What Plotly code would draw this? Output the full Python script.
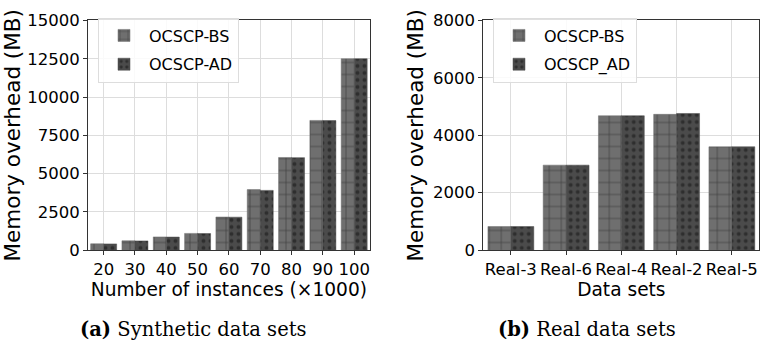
import plotly.graph_objects as go

syn_cats = ["20", "30", "40", "50", "60", "70", "80", "90", "100"]
syn_bs = [410, 610, 860, 1090, 2160, 3950, 6050, 8470, 12500]
syn_ad = [405, 600, 850, 1080, 2150, 3900, 6040, 8460, 12500]

real_cats = ["Real-3", "Real-6", "Real-4", "Real-2", "Real-5"]
real_bs = [820, 2960, 4680, 4730, 3600]
real_ad = [820, 2960, 4680, 4760, 3600]

BS_COLOR = "#6f6f6f"
AD_COLOR = "#4b4b4b"
FONT = "DejaVu Sans"

fig = go.Figure()

def add_pair(cats, bs, ad, xa, ya, names, show):
    fig.add_trace(go.Bar(x=cats, y=bs, name=names[0], xaxis=xa, yaxis=ya,
                         legendgroup=show + "bs",
                         marker=dict(color=BS_COLOR, line=dict(color=BS_COLOR, width=0.5),
                                     pattern=dict(shape="+", fgcolor="#111111", bgcolor=BS_COLOR,
                                                  size=12, solidity=0.12)),
                         legend=show))
    fig.add_trace(go.Bar(x=cats, y=ad, name=names[1], xaxis=xa, yaxis=ya,
                         legendgroup=show + "ad",
                         marker=dict(color=AD_COLOR, line=dict(color=AD_COLOR, width=0.5),
                                     pattern=dict(shape=".", fgcolor="#111111", bgcolor=AD_COLOR,
                                                  size=7, solidity=0.25)),
                         legend=show))

add_pair(syn_cats, syn_bs, syn_ad, "x", "y", ["OCSCP-BS", "OCSCP-AD"], "legend")
add_pair(real_cats, real_bs, real_ad, "x2", "y2", ["OCSCP-BS", "OCSCP_AD"], "legend2")

axis_common = dict(showline=True, linecolor="#333333", linewidth=1, mirror=True,
                   showgrid=True, gridcolor="#dddddd", gridwidth=1, layer="above traces",
                   ticks="outside", ticklen=4, tickcolor="#333333",
                   tickfont=dict(family=FONT, size=16.5, color="black"), zeroline=False)

XT_FONT = dict(family=FONT, size=18.6, color="black")
YT_FONT = dict(family=FONT, size=21.5, color="black")

legend_common = dict(bgcolor="rgba(255,255,255,0.85)", bordercolor="#dddddd", borderwidth=1,
                     font=dict(family=FONT, size=16, color="black"),
                     xanchor="left", yanchor="top", tracegroupgap=5, itemwidth=40)

syn_ticks = [0, 2500, 5000, 7500, 10000, 12500, 15000]
real_ticks = [0, 2000, 4000, 6000, 8000]

fig.update_layout(
    width=761, height=347,
    margin=dict(l=0, r=0, t=0, b=0),
    plot_bgcolor="white", paper_bgcolor="white",
    barmode="group", bargap=0.17, bargroupgap=0.0,
    xaxis=dict(domain=[0.1156, 0.486], anchor="y",
               title=dict(text="Number of instances (×1000)", font=XT_FONT, standoff=2),
               **axis_common),
    yaxis=dict(domain=[0.265, 0.965], anchor="x", range=[0, 15000],
               tickmode="array", tickvals=syn_ticks, ticktext=[str(v) for v in syn_ticks],
               title=dict(text="Memory overhead (MB)", font=YT_FONT, standoff=3),
               **axis_common),
    xaxis2=dict(domain=[0.635, 0.998], anchor="y2",
                title=dict(text="Data sets", font=XT_FONT, standoff=2),
                **axis_common),
    yaxis2=dict(domain=[0.265, 0.965], anchor="x2", range=[0, 8000],
                tickmode="array", tickvals=real_ticks, ticktext=[str(v) for v in real_ticks],
                title=dict(text="Memory overhead (MB)", font=YT_FONT, standoff=3),
                **axis_common),
    legend=dict(x=98/761, y=1-9/347, **legend_common),
    legend2=dict(x=493/761, y=1-9/347, **legend_common),
    showlegend=True,
)

fig.add_annotation(text="<b>(a)</b> Synthetic data sets", x=193/761, y=1-339/347,
                   xref="paper", yref="paper", showarrow=False, xanchor="center", yanchor="middle",
                   font=dict(family="DejaVu Serif", size=19.5, color="black"))
fig.add_annotation(text="<b>(b)</b> Real data sets", x=587/761, y=1-339/347,
                   xref="paper", yref="paper", showarrow=False, xanchor="center", yanchor="middle",
                   font=dict(family="DejaVu Serif", size=19.5, color="black"))

fig.write_html("out.html")
